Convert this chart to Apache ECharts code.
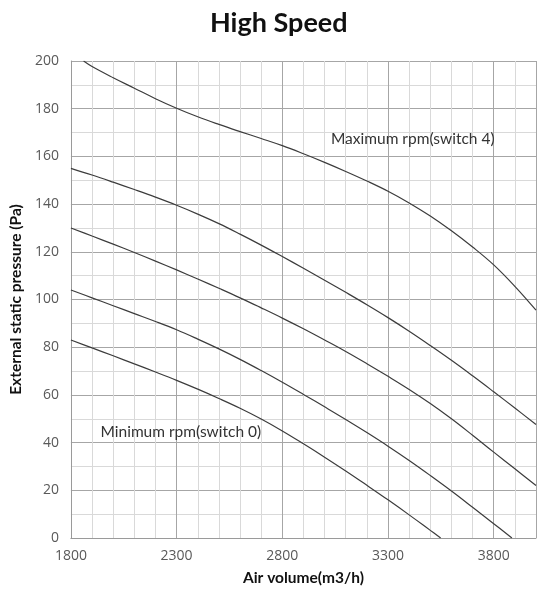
<!DOCTYPE html>
<html>
<head>
<meta charset="utf-8">
<script src="https://cdn.jsdelivr.net/npm/echarts@6/dist/echarts.min.js"></script>
<style>
  html, body { margin: 0; padding: 0; background: #fff; }
  #chart { width: 539px; height: 592px; }
</style>
</head>
<body>
<div id="chart"></div>
<script>
// fan curves, air volume (m3/h) vs external static pressure (Pa)
const xTicks = [1800, 2300, 2800, 3300, 3800];
const yTicks = [0, 20, 40, 60, 80, 100, 120, 140, 160, 180, 200];

const maxRpm = [
  [1860, 200], [1900, 197.7], [2000, 193], [2100, 188.6], [2200, 184.2],
  [2300, 180.2], [2400, 176.6], [2500, 173.4], [2600, 170.4], [2700, 167.5],
  [2800, 164.5], [2900, 161.1], [3000, 157.5], [3100, 153.7], [3200, 149.7],
  [3300, 145.4], [3400, 140.5], [3500, 135], [3600, 128.8], [3700, 122],
  [3800, 114.5], [3900, 105.5], [4000, 95.5]
];
const rpm3 = [
  [1800, 155], [1900, 152.2], [2000, 149.2], [2100, 146.1], [2200, 142.9],
  [2300, 139.5], [2400, 135.8], [2500, 131.8], [2600, 127.4], [2700, 122.8],
  [2800, 118], [2900, 113.1], [3000, 108.1], [3100, 103], [3200, 97.8],
  [3300, 92.4], [3400, 86.7], [3500, 80.7], [3600, 74.5], [3700, 68],
  [3800, 61.3], [3900, 54.5], [4000, 47.6]
];
const rpm2 = [
  [1800, 130], [1900, 126.6], [2000, 123.2], [2100, 119.7], [2200, 116.1],
  [2300, 112.4], [2400, 108.6], [2500, 104.7], [2600, 100.7], [2700, 96.5],
  [2800, 92.2], [2900, 87.7], [3000, 83], [3100, 78.2], [3200, 73.1],
  [3300, 67.8], [3400, 62.3], [3500, 56.4], [3600, 50], [3700, 43.1],
  [3800, 36], [3900, 29], [4000, 22]
];
const rpm1 = [
  [1800, 104], [1900, 100.7], [2000, 97.4], [2100, 94.1], [2200, 90.8],
  [2300, 87.3], [2400, 83.4], [2500, 79.3], [2600, 74.9], [2700, 70.2],
  [2800, 65.3], [2900, 60.2], [3000, 55], [3100, 49.7], [3200, 44.2],
  [3300, 38.5], [3400, 32.5], [3500, 26.2], [3600, 19.7], [3700, 12.9],
  [3800, 6], [3886, 0]
];
const minRpm = [
  [1800, 83], [1900, 79.7], [2000, 76.4], [2100, 73], [2200, 69.6],
  [2300, 66.1], [2400, 62.4], [2500, 58.5], [2600, 54.4], [2700, 49.9],
  [2800, 44.9], [2900, 39.5], [3000, 33.9], [3100, 28.1], [3200, 22.1],
  [3300, 16], [3400, 9.7], [3500, 3.2], [3549, 0]
];

const FONT = 'Lato, "Open Sans", sans-serif';
const TICKFONT = '"Open Sans", sans-serif';

function curve(name, data, note, at) {
  const s = {
    name: name,
    type: 'line',
    data: data,
    smooth: 0.4,
    showSymbol: false,
    lineStyle: { color: '#3c3c3c', width: 1.2 },
    silent: true
  };
  if (note) {
    s.markPoint = {
      symbol: 'circle',
      symbolSize: 0,
      data: [{ coord: at }],
      label: {
        show: true,
        position: 'right',
        distance: 0,
        formatter: note,
        color: '#333',
        fontSize: 15.5,
        fontFamily: FONT
      }
    };
  }
  return s;
}

const chart = echarts.init(document.getElementById('chart'));
chart.setOption({
  animation: false,
  backgroundColor: '#fff',
  title: {
    text: 'High Speed',
    left: 205,
    top: 5,
    textStyle: { fontSize: 27, fontWeight: 'bold', color: '#111', fontFamily: FONT }
  },
  grid: { left: 70, top: 61, right: 0, bottom: 54, containLabel: false },
  xAxis: {
    type: 'value',
    min: 1800,
    max: 4000,
    interval: 500,
    name: 'Air volume(m3/h)',
    nameLocation: 'middle',
    nameGap: 32,
    nameTextStyle: { fontSize: 15.5, fontWeight: 'bold', color: '#111', fontFamily: FONT },
    axisLine: { show: true, lineStyle: { color: '#9a9a9a', width: 1 } },
    axisTick: { show: false },
    axisLabel: {
      color: '#595959', fontSize: 14, margin: 11, fontFamily: TICKFONT,
      formatter: v => xTicks.indexOf(v) >= 0 ? String(v) : ''
    },
    splitLine: { show: true, lineStyle: { color: '#a6a6a6', width: 1 } },
    minorTick: { show: false, splitNumber: 5 },
    minorSplitLine: { show: true, lineStyle: { color: '#d9d9d9', width: 1 } }
  },
  yAxis: {
    type: 'value',
    min: 0,
    max: 200,
    interval: 20,
    name: 'External static pressure (Pa)',
    nameLocation: 'middle',
    nameGap: 43,
    nameTextStyle: { fontSize: 15.5, fontWeight: 'bold', color: '#111', fontFamily: FONT },
    axisLine: { show: true, lineStyle: { color: '#9a9a9a', width: 1 } },
    axisTick: { show: false },
    axisLabel: {
      color: '#595959', fontSize: 14, margin: 12, fontFamily: TICKFONT,
      formatter: v => yTicks.indexOf(v) >= 0 ? String(v) : ''
    },
    splitLine: { show: true, lineStyle: { color: '#a6a6a6', width: 1 } },
    minorTick: { show: false, splitNumber: 2 },
    minorSplitLine: { show: true, lineStyle: { color: '#d9d9d9', width: 1 } }
  },
  series: [
    curve('Maximum rpm(switch 4)', maxRpm, 'Maximum rpm(switch 4)', [3030, 167.5]),
    curve('switch 3', rpm3),
    curve('switch 2', rpm2),
    curve('switch 1', rpm1),
    curve('Minimum rpm(switch 0)', minRpm, 'Minimum rpm(switch 0)', [1940, 44.5])
  ]
});
</script>
</body>
</html>
